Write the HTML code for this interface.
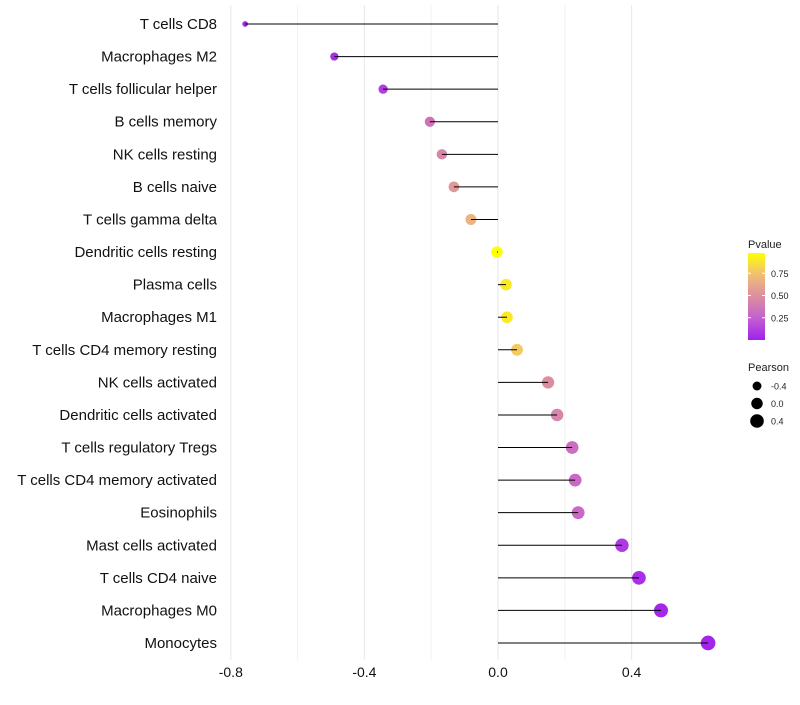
<!DOCTYPE html>
<html><head><meta charset="utf-8"><style>
body{margin:0;background:#fff;}
svg text{font-family:"Liberation Sans",sans-serif;}
</style></head><body>
<svg id="chart" width="800" height="700"></svg>
<script>
const categories=["T cells CD8","Macrophages M2","T cells follicular helper","B cells memory","NK cells resting","B cells naive","T cells gamma delta","Dendritic cells resting","Plasma cells","Macrophages M1","T cells CD4 memory resting","NK cells activated","Dendritic cells activated","T cells regulatory  Tregs","T cells CD4 memory activated","Eosinophils","Mast cells activated","T cells CD4 naive","Macrophages M0","Monocytes"];
const pearson=[-0.757,-0.49,-0.344,-0.204,-0.168,-0.132,-0.081,-0.003,0.024,0.027,0.057,0.15,0.177,0.222,0.231,0.24,0.371,0.422,0.488,0.629];
const pvalues=[0.03,0.05,0.12,0.35,0.45,0.55,0.7,1.0,0.92,0.92,0.8,0.5,0.45,0.32,0.3,0.3,0.1,0.06,0.03,0.02];
const xTicks=[-0.8,-0.4,0.0,0.4];
const xTickLabels=["-0.8","-0.4","0.0","0.4"];
const xMinor=[-0.6,-0.2,0.2];
const sizeLegend=[-0.4,0.0,0.4];
const colorLegend=[0.25,0.5,0.75];

const NS="http://www.w3.org/2000/svg";
const svg=document.getElementById('chart');
function mk(tag,attrs,parent){const e=document.createElementNS(NS,tag);for(const k in attrs)e.setAttribute(k,attrs[k]);(parent||svg).appendChild(e);return e;}
const xScale=v=>498+v*334;
const yScale=i=>24+i*(643-24)/19;
const rScale=v=>Math.sqrt(Math.max(3,33+33*v));
const stops=[[0,[160,32,240]],[0.25,[196,96,206]],[0.5,[220,142,160]],[0.75,[240,190,120]],[1,[255,255,0]]];
function color(p){p=Math.max(0,Math.min(1,p));for(let i=1;i<stops.length;i++){if(p<=stops[i][0]){const a=stops[i-1],b=stops[i];const t=(p-a[0])/(b[0]-a[0]);const c=a[1].map((v,j)=>Math.round(v+(b[1][j]-v)*t));return `rgb(${c.join(',')})`;}}return 'rgb(255,255,0)';}

xMinor.forEach(v=>{const l=mk('line',{x1:xScale(v),x2:xScale(v),y1:5,y2:660,stroke:'#f2f2f2','stroke-width':1});

});
xTicks.forEach((v,i)=>{const l=mk('line',{x1:xScale(v),x2:xScale(v),y1:5,y2:660,stroke:'#ebebeb','stroke-width':1.2});


const t=mk('text',{x:xScale(v),y:677,'text-anchor':'middle','font-size':14,fill:'#111'});t.textContent=xTickLabels[i];

});

categories.forEach((c,i)=>{const y=yScale(i);
const t=mk('text',{x:217,y:y+5,'text-anchor':'end','font-size':15,fill:'#111'});t.textContent=c;


const p=mk('circle',{cx:xScale(pearson[i]),cy:y,r:rScale(pearson[i]),fill:color(pvalues[i])});


const s=mk('line',{x1:xScale(0),x2:xScale(pearson[i]),y1:y,y2:y,stroke:'#000','stroke-width':1});

});

const defs=mk('defs',{});const g=mk('linearGradient',{id:'pg',x1:0,y1:1,x2:0,y2:0},defs);
for(let k=0;k<=10;k++){mk('stop',{offset:k/10,'stop-color':color(k/10)},g);}
const lt=mk('text',{x:748,y:248,'font-size':11,fill:'#222'});lt.textContent='Pvalue';


const bar=mk('rect',{x:748,y:253,width:17,height:87,fill:'url(#pg)'});


colorLegend.forEach(v=>{const y=340-v*89;
mk('line',{x1:748,x2:751,y1:y,y2:y,stroke:'#fff','stroke-width':1});mk('line',{x1:762,x2:765,y1:y,y2:y,stroke:'#fff','stroke-width':1});
const t=mk('text',{x:771,y:y+3.5,'font-size':9,fill:'#222'});t.textContent=v.toFixed(2);

});
const st=mk('text',{x:748,y:371,'font-size':11,fill:'#222'});st.textContent='Pearson';


sizeLegend.forEach((v,i)=>{const y=386+i*17.5;
const c=mk('circle',{cx:757,cy:y,r:rScale(v),fill:'#000'});


const t=mk('text',{x:771,y:y+3.5,'font-size':9,fill:'#222'});t.textContent=v.toFixed(1);

});
</script>
</body></html>
